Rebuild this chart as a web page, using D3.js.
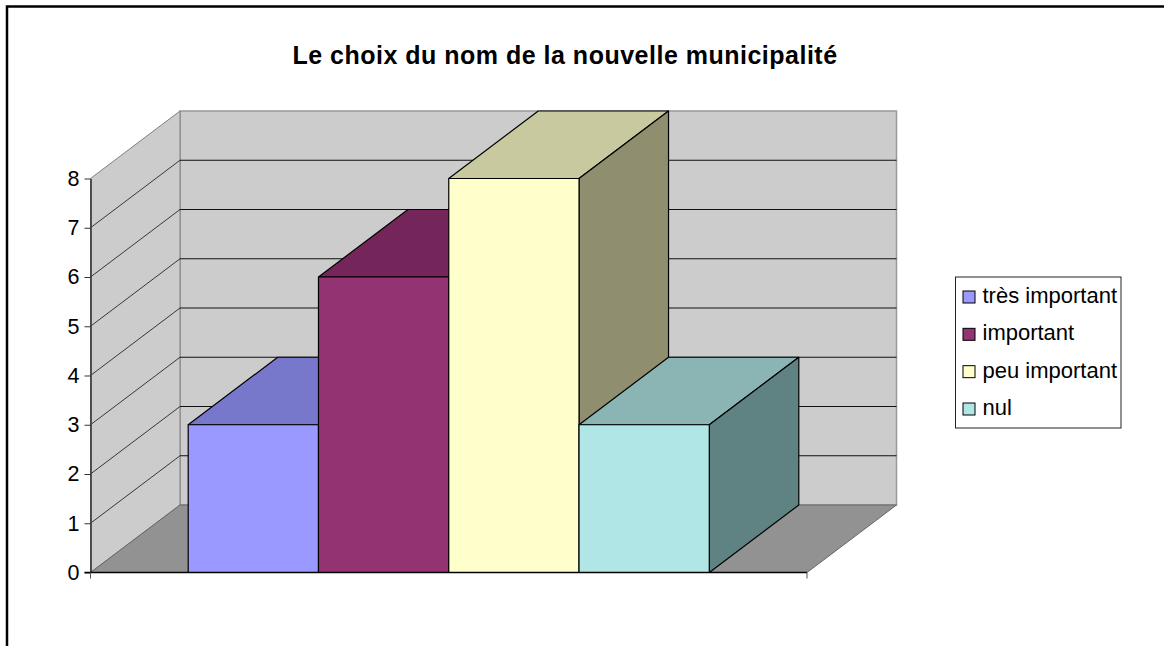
<!DOCTYPE html>
<html lang="fr">
<head>
    <meta charset="UTF-8">
    <title>Le choix du nom de la nouvelle municipalité</title>
    <script src="https://d3js.org/d3.v7.min.js"></script>
    <style>
        html, body { margin: 0; padding: 0; background: #fff; overflow: hidden; }
        svg { display: block; font-family: "Liberation Sans", Arial, sans-serif; }
        .y-axis text { font-size: 21.5px; fill: #000; }
        .y-axis path { stroke: #444; stroke-width: 1.8; }
        .y-axis line { stroke: #333; }
        .legend-text { font-size: 22px; fill: #000; }
        .grid { stroke: #111; stroke-width: 1; }
        .bar-face { stroke: #000; stroke-width: 1.2; stroke-linejoin: round; }
    </style>
</head>
<body>
    <div id="chart-container"></div>
    <script>
const title = 'Le choix du nom de la nouvelle municipalité';
const categories = ['très important', 'important', 'peu important', 'nul'];
const values = [3, 6, 8, 3];
const frontColors = ['#9999ff', '#933372', '#ffffcc', '#b0e6e6'];
const topColors = ['#7777cc', '#74265a', '#c9c9a0', '#8bb5b5'];
const sideColors = ['#5f5f99', '#581d44', '#8f8f70', '#5f8282'];
const yTicks = [0, 1, 2, 3, 4, 5, 6, 7, 8];

const width = 1164, height = 646;
// 3D offset of the back wall relative to the front plane
const depth = { x: 89.5, y: -67.5 };

const svg = d3.select('#chart-container')
    .append('svg')
    .attr('width', width)
    .attr('height', height);

// Outer chart frame, right and bottom edges run off the picture
svg.append('rect')
    .attr('x', 7).attr('y', 6.5)
    .attr('width', width + 20).attr('height', height + 20)
    .attr('fill', '#fff').attr('stroke', '#000').attr('stroke-width', 2.5);

svg.append('text')
    .attr('x', 565).attr('y', 63.5)
    .attr('text-anchor', 'middle')
    .style('font-size', '25px')
    .style('letter-spacing', '0.5px')
    .style('font-weight', 'bold')
    .text(title);

const xScale = d3.scaleBand()
    .domain(categories)
    .range([90.5, 807])
    .paddingInner(0)
    .paddingOuter(0.75);

const yScale = d3.scaleLinear()
    .domain([0, 8])
    .range([572.5, 178.5]);

const [x0, x1] = xScale.range();
const y0 = yScale(0), yTop = yScale(8);
const path = pts => 'M' + pts.map(p => p.join(',')).join('L') + 'Z';
const back = (x, y) => [x + depth.x, y + depth.y];

// Back wall
svg.append('path')
    .attr('d', path([back(x0, y0), back(x1, y0), back(x1, yTop), back(x0, yTop)]))
    .attr('fill', '#cccccc').attr('stroke', '#999999').attr('stroke-width', 1.5);

// Left wall
svg.append('path')
    .attr('d', path([[x0, y0], back(x0, y0), back(x0, yTop), [x0, yTop]]))
    .attr('fill', '#cccccc').attr('stroke', '#808080').attr('stroke-width', 1);

// Floor
svg.append('path')
    .attr('d', path([[x0, y0], [x1, y0], back(x1, y0), back(x0, y0)]))
    .attr('fill', '#929292').attr('stroke', '#666666').attr('stroke-width', 1);

// Gridlines on both walls
const gridTicks = yTicks.filter(d => d > 0 && d < 8);
svg.selectAll('.grid-side')
    .data(gridTicks)
    .enter()
    .append('line')
    .attr('class', 'grid grid-side')
    .attr('x1', x0).attr('y1', d => yScale(d))
    .attr('x2', x0 + depth.x).attr('y2', d => yScale(d) + depth.y)
    .style('stroke-width', 0.8);

svg.selectAll('.grid-back')
    .data(gridTicks)
    .enter()
    .append('line')
    .attr('class', 'grid grid-back')
    .attr('x1', x0 + depth.x).attr('y1', d => yScale(d) + depth.y)
    .attr('x2', x1 + depth.x).attr('y2', d => yScale(d) + depth.y);

// Bars: top, side, then front, drawn left to right so later bars overlap
const bars = svg.selectAll('.bar')
    .data(categories.map((c, i) => ({ c, i, v: values[i] })))
    .enter()
    .append('g')
    .attr('class', 'bar');

const bw = xScale.bandwidth();

bars.append('path')
    .attr('class', 'bar-face')
    .attr('fill', d => topColors[d.i])
    .attr('d', d => {
        const l = xScale(d.c), y = yScale(d.v);
        return path([[l, y], [l + bw, y], back(l + bw, y), back(l, y)]);
    });

bars.append('path')
    .attr('class', 'bar-face')
    .attr('fill', d => sideColors[d.i])
    .attr('d', d => {
        const r = xScale(d.c) + bw, y = yScale(d.v);
        return path([[r, y], [r, y0], back(r, y0), back(r, y)]);
    });

bars.append('rect')
    .attr('class', 'bar-face')
    .attr('fill', d => frontColors[d.i])
    .attr('x', d => xScale(d.c))
    .attr('y', d => yScale(d.v))
    .attr('width', bw)
    .attr('height', d => y0 - yScale(d.v));

// Y axis
const yAxis = svg.append('g')
    .attr('class', 'y-axis')
    .attr('transform', `translate(${x0},0)`)
    .call(d3.axisLeft(yScale).tickValues(yTicks).tickSize(6).tickPadding(5).tickSizeOuter(0));
yAxis.selectAll('text').style('font-family', '"Liberation Sans", Arial, sans-serif');

// X axis baseline with end ticks, the single category has no label
svg.append('line')
    .attr('x1', x0 - 6).attr('x2', x1)
    .attr('y1', y0).attr('y2', y0)
    .attr('stroke', '#000').attr('stroke-width', 1.3);
svg.selectAll('.x-tick')
    .data([x0, x1])
    .enter()
    .append('line')
    .attr('class', 'x-tick')
    .attr('x1', d => d).attr('x2', d => d)
    .attr('y1', y0).attr('y2', y0 + 6)
    .attr('stroke', '#555');

// Legend
const legend = svg.append('g').attr('transform', 'translate(955.5,277)');
legend.append('rect')
    .attr('width', 165.5).attr('height', 151)
    .attr('fill', '#fff').attr('stroke', '#222').attr('stroke-width', 1);

const legendY = d3.scalePoint()
    .domain(categories)
    .range([19, 131]);

const items = legend.selectAll('.legend-item')
    .data(categories)
    .enter()
    .append('g')
    .attr('class', 'legend-item')
    .attr('transform', d => `translate(0,${legendY(d)})`);

items.append('rect')
    .attr('x', 7.5).attr('y', -5)
    .attr('width', 12).attr('height', 12)
    .attr('fill', (d, i) => frontColors[i])
    .attr('stroke', '#000').attr('stroke-width', 1);

items.append('text')
    .attr('class', 'legend-text')
    .attr('x', 27).attr('y', 7)
    .text(d => d);
    </script>
</body>
</html>
